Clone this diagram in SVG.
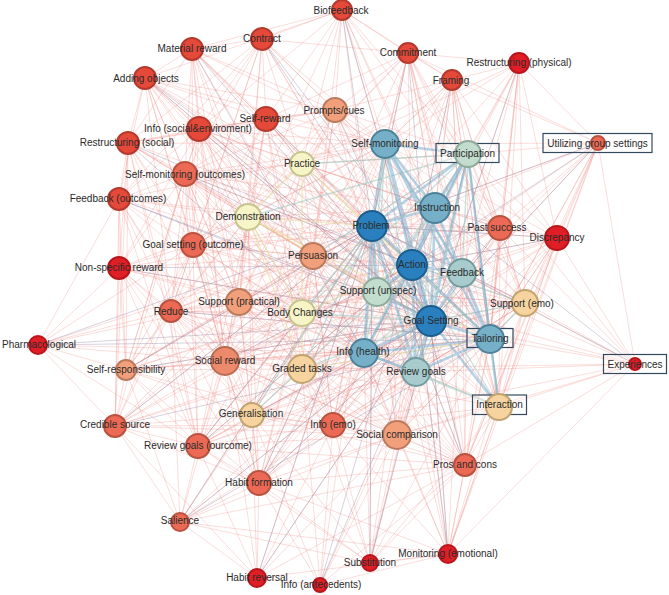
<svg xmlns="http://www.w3.org/2000/svg" width="669" height="595" viewBox="0 0 669 595">
<style>
.node text{font-family:"Liberation Sans",Arial,sans-serif;font-size:10px;fill:#2a2a2a;text-anchor:middle}
.node circle{stroke-width:2}
.box{fill:#fff;fill-opacity:0.35;stroke:#34495e;stroke-width:1.2}
.rd{fill:#e01e26;stroke:#b8161c}
.r{fill:#e5493a;stroke:#b53a2e}
.sr{fill:#ec6a55;stroke:#b9533f}
.ls{fill:#f2a07c;stroke:#bb7a5c}
.ls2{fill:#ee8a6c;stroke:#b86c52}
.pc{fill:#f7d39f;stroke:#c2a470}
.yl{fill:#f7f4c8;stroke:#c6c58e}
.lg{fill:#c2dccd;stroke:#8daa9a}
.lt{fill:#a8cccd;stroke:#729c9d}
.tl{fill:#76afc8;stroke:#4e8299}
.bl{fill:#2a80be;stroke:#1b5e8e}
.e1{fill:none;stroke:#ef8a82;stroke-opacity:0.42;stroke-width:0.7}
.e2{fill:none;stroke:#8f7f9f;stroke-opacity:0.45;stroke-width:0.8}
.e3{fill:none;stroke:#6fa7cc;stroke-opacity:0.5;stroke-width:2.6}
.e4{fill:none;stroke:#9cc9bf;stroke-opacity:0.55;stroke-width:1.4}
.e5{fill:none;stroke:#e3dc96;stroke-opacity:0.65;stroke-width:1.1}
</style>
<rect width="669" height="595" fill="#fff"/>
<g id="connectors">
<path class="e1" d="M342 10L192 49M342 10L262 39M342 10L408 53M342 10L452 80M342 10L335 110M342 10L385 144M342 10L302 164M342 10L313 256M342 10L435 208M342 10L468 154M342 10L500 228M342 10L490 339M342 10L145 78M342 10L266 119M342 10L248 217M342 10L199 129M342 10L377 292
M192 49L262 39M192 49L145 78M192 49L266 119M192 49L199 129M192 49L128 143M192 49L185 174M192 49L302 164M192 49L335 110M192 49L248 217M192 49L193 245M192 49L313 256M192 49L372 226M192 49L412 265M192 49L239 302M192 49L225 361M192 49L385 144M192 49L302 313
M262 39L408 53M262 39L266 119M262 39L335 110M262 39L199 129M262 39L302 164M262 39L248 217M262 39L193 245M262 39L435 208M262 39L385 144M262 39L372 226M262 39L239 302M262 39L171 311M262 39L119 199M262 39L185 174M262 39L128 143
M408 53L519 63M408 53L452 80M408 53L335 110M408 53L385 144M408 53L468 154M408 53L302 164M408 53L313 256M408 53L372 226M408 53L435 208M408 53L500 228M408 53L462 273M408 53L490 339M408 53L525 303M408 53L248 217M408 53L266 119M408 53L499 407
M519 63L452 80M519 63L468 154M519 63L598 143M519 63L385 144M519 63L435 208M519 63L500 228M519 63L462 273M519 63L525 303M519 63L490 339M519 63L372 226M519 63L412 265M519 63L557 238M519 63L499 407M519 63L302 164
M452 80L335 110M452 80L385 144M452 80L468 154M452 80L435 208M452 80L372 226M452 80L500 228M452 80L462 273M452 80L490 339M452 80L598 143M452 80L313 256M452 80L302 164M452 80L377 292M452 80L525 303M452 80L557 238
M145 78L199 129M145 78L128 143M145 78L185 174M145 78L119 199M145 78L266 119M145 78L335 110M145 78L302 164M145 78L248 217M145 78L193 245M145 78L313 256M145 78L372 226M145 78L412 265M145 78L377 292M145 78L239 302M145 78L302 313M145 78L225 361M145 78L171 311
M266 119L335 110M266 119L199 129M266 119L302 164M266 119L248 217M266 119L193 245M266 119L313 256M266 119L372 226M266 119L185 174M266 119L128 143M266 119L239 302M266 119L302 313M266 119L225 361M266 119L171 311M266 119L302 369
M335 110L302 164M335 110L385 144M335 110L248 217M335 110L313 256M335 110L302 313M335 110L372 226M335 110L239 302M335 110L193 245M335 110L185 174M335 110L199 129M335 110L128 143M335 110L377 292M335 110L225 361M335 110L468 154
M199 129L128 143M199 129L185 174M199 129L119 199M199 129L302 164M199 129L248 217M199 129L193 245M199 129L313 256M199 129L372 226M199 129L171 311M199 129L239 302M199 129L302 313M199 129L225 361M199 129L119 268M199 129L302 369M199 129L126 370
M128 143L185 174M128 143L119 199M128 143L193 245M128 143L119 268M128 143L171 311M128 143L239 302M128 143L225 361M128 143L248 217M128 143L313 256M128 143L372 226M128 143L126 370M128 143L115 426M128 143L198 446
M385 144L302 164M385 144L248 217M385 144L313 256M385 144L500 228M385 144L525 303M385 144L302 313M385 144L302 369M385 144L333 425M385 144L397 435M385 144L499 407
M468 154L500 228M468 154L557 238M468 154L598 143M468 154L525 303M468 154L499 407M468 154L397 435M468 154L465 465M468 154L635 364M468 154L333 425M468 154L302 164M468 154L313 256
M598 143L500 228M598 143L557 238M598 143L462 273M598 143L525 303M598 143L490 339M598 143L499 407M598 143L635 364M598 143L465 465M598 143L448 554M598 143L377 292M598 143L435 208M598 143L408 53M598 143L385 144
M302 164L193 245M302 164L239 302M302 164L185 174M302 164L372 226M302 164L377 292M302 164L500 228M302 164L252 415M302 164L333 425
M185 174L119 199M185 174L248 217M185 174L193 245M185 174L119 268M185 174L171 311M185 174L239 302M185 174L225 361M185 174L313 256M185 174L372 226M185 174L126 370M185 174L115 426M185 174L198 446M185 174L302 313M185 174L302 369M185 174L252 415
M119 199L193 245M119 199L119 268M119 199L171 311M119 199L239 302M119 199L225 361M119 199L126 370M119 199L115 426M119 199L248 217M119 199L313 256M119 199L372 226M119 199L38 345M119 199L198 446M119 199L252 415
M248 217L193 245M248 217L313 256M248 217L171 311M248 217L239 302M248 217L225 361M248 217L252 415M248 217L333 425M248 217L198 446M248 217L259 483M248 217L500 228M248 217L119 268M248 217L126 370
M500 228L557 238M500 228L462 273M500 228L525 303M500 228L490 339M500 228L499 407M500 228L397 435M500 228L465 465M500 228L333 425M500 228L313 256M500 228L416 372M500 228L377 292M500 228L302 313
M557 238L462 273M557 238L525 303M557 238L490 339M557 238L499 407M557 238L635 364M557 238L397 435M557 238L465 465M557 238L416 372M557 238L448 554M557 238L377 292
M193 245L119 268M193 245L171 311M193 245L239 302M193 245L225 361M193 245L126 370M193 245L115 426M193 245L198 446M193 245L252 415M193 245L313 256M193 245L302 313M193 245L302 369M193 245L259 483M193 245L364 353M193 245L500 228
M313 256L239 302M313 256L302 313M313 256L225 361M313 256L302 369M313 256L252 415M313 256L333 425M313 256L198 446M313 256L397 435M313 256L259 483M313 256L171 311M313 256L126 370M313 256L115 426M313 256L525 303M313 256L499 407M313 256L465 465
M119 268L38 345M119 268L171 311M119 268L126 370M119 268L225 361M119 268L239 302M119 268L115 426M119 268L198 446M119 268L252 415M119 268L259 483M119 268L313 256M119 268L302 313
M525 303L635 364M525 303L499 407M525 303L397 435M525 303L465 465M525 303L448 554M525 303L416 372M525 303L333 425M525 303L302 369M525 303L302 313M525 303L377 292M525 303L239 302
M171 311L38 345M171 311L126 370M171 311L225 361M171 311L115 426M171 311L198 446M171 311L252 415M171 311L259 483M171 311L239 302M171 311L302 369M171 311L180 522M171 311L333 425M171 311L302 313M171 311L397 435
M239 302L225 361M239 302L302 369M239 302L252 415M239 302L333 425M239 302L198 446M239 302L259 483M239 302L302 313M239 302L397 435M239 302L126 370M239 302L115 426M239 302L465 465
M302 313L252 415M302 313L333 425M302 313L225 361M302 313L259 483M302 313L397 435M302 313L198 446M302 313L126 370M302 313L465 465M302 313L499 407
M38 345L126 370M38 345L115 426M38 345L225 361M38 345L239 302M38 345L193 245M38 345L313 256M38 345L198 446M38 345L364 353
M126 370L115 426M126 370L225 361M126 370L198 446M126 370L252 415M126 370L259 483M126 370L180 522M126 370L302 369M126 370L333 425M126 370L364 353
M225 361L302 369M225 361L252 415M225 361L198 446M225 361L259 483M225 361L115 426M225 361L180 522M225 361L333 425M225 361L397 435M225 361L257 578M225 361L465 465M225 361L525 303
M302 369L252 415M302 369L333 425M302 369L397 435M302 369L259 483M302 369L198 446M302 369L465 465M302 369L499 407M302 369L370 563M302 369L320 585
M635 364L499 407M635 364L465 465M635 364L490 339M635 364L448 554M635 364L500 228M635 364L416 372M635 364L397 435M635 364L462 273M635 364L431 321M635 364L377 292M635 364L333 425M635 364L412 265M635 364L302 369
M499 407L397 435M499 407L465 465M499 407L448 554M499 407L333 425M499 407L370 563
M115 426L198 446M115 426L252 415M115 426L259 483M115 426L180 522M115 426L333 425M115 426L302 369M115 426L397 435M115 426L257 578
M252 415L333 425M252 415L198 446M252 415L259 483M252 415L180 522M252 415L397 435M252 415L465 465M252 415L257 578M252 415L320 585M252 415L370 563
M333 425L198 446M333 425L259 483M333 425L397 435M333 425L465 465M333 425L370 563M333 425L448 554M333 425L320 585M333 425L257 578M333 425L180 522
M198 446L259 483M198 446L180 522M198 446L397 435M198 446L465 465M198 446L257 578M198 446L370 563
M397 435L465 465M397 435L259 483M397 435L370 563M397 435L448 554M397 435L320 585M397 435L180 522M397 435L257 578
M465 465L259 483M465 465L448 554M465 465L370 563M465 465L320 585M465 465L257 578M465 465L180 522
M259 483L180 522M259 483L257 578M259 483L320 585M259 483L370 563M259 483L448 554
M180 522L257 578M180 522L370 563M180 522L448 554M448 554L370 563M448 554L320 585M448 554L257 578M257 578L320 585
M372 226L193 245M372 226L119 268M372 226L171 311M372 226L239 302M372 226L225 361M372 226L126 370M372 226L115 426M372 226L198 446M372 226L252 415M372 226L259 483M372 226L180 522M372 226L257 578M372 226L370 563M372 226L448 554M372 226L320 585M372 226L333 425M372 226L397 435M372 226L465 465M372 226L525 303M372 226L557 238M372 226L500 228M372 226L598 143
M412 265L193 245M412 265L171 311M412 265L239 302M412 265L225 361M412 265L115 426M412 265L198 446M412 265L252 415M412 265L259 483M412 265L370 563M412 265L448 554M412 265L333 425M412 265L397 435M412 265L465 465M412 265L525 303M412 265L557 238M412 265L500 228M412 265L266 119M412 265L199 129M412 265L185 174M412 265L302 164M412 265L335 110M412 265L408 53M412 265L452 80
M431 321L193 245M431 321L119 268M431 321L171 311M431 321L239 302M431 321L225 361M431 321L126 370M431 321L115 426M431 321L198 446M431 321L252 415M431 321L259 483M431 321L180 522M431 321L257 578M431 321L370 563M431 321L448 554M431 321L333 425M431 321L465 465M431 321L557 238M431 321L500 228M431 321L185 174M431 321L128 143M431 321L199 129M431 321L145 78M431 321L262 39M431 321L342 10M431 321L519 63M431 321L598 143M431 321L302 164M431 321L248 217
M435 208L185 174M435 208L199 129M435 208L266 119M435 208L335 110M435 208L302 164M435 208L248 217M435 208L193 245M435 208L313 256M435 208L239 302M435 208L302 313M435 208L225 361M435 208L302 369M435 208L333 425M435 208L397 435M435 208L465 465M435 208L525 303M435 208L557 238M435 208L500 228M435 208L499 407M435 208L408 53M435 208L452 80
M385 144L185 174M385 144L199 129M385 144L266 119M385 144L128 143M385 144L193 245M385 144L239 302M385 144L171 311M385 144L225 361M385 144L119 199M385 144L145 78M385 144L408 53M385 144L452 80M385 144L557 238
M490 339L313 256M490 339L302 313M490 339L302 369M490 339L333 425M490 339L397 435M490 339L465 465M490 339L448 554M490 339L370 563M490 339L239 302M490 339L225 361M490 339L252 415M490 339L198 446M490 339L557 238M490 339L500 228M490 339L525 303M490 339L335 110M490 339L452 80M490 339L519 63M490 339L598 143M490 339L171 311M490 339L126 370
M364 353L302 313M364 353L302 369M364 353L252 415M364 353L333 425M364 353L397 435M364 353L465 465M364 353L225 361M364 353L239 302M364 353L171 311M364 353L198 446M364 353L259 483M364 353L180 522M364 353L370 563M364 353L448 554M364 353L313 256M364 353L248 217M364 353L302 164M364 353L185 174M364 353L199 129M364 353L525 303M364 353L557 238
M416 372L302 313M416 372L302 369M416 372L252 415M416 372L333 425M416 372L397 435M416 372L465 465M416 372L225 361M416 372L198 446M416 372L259 483M416 372L370 563M416 372L448 554M416 372L320 585M416 372L313 256M416 372L302 164M416 372L525 303M416 372L499 407M416 372L239 302M416 372L171 311
M462 273L313 256M462 273L302 313M462 273L302 369M462 273L333 425M462 273L397 435M462 273L465 465M462 273L525 303M462 273L499 407M462 273L239 302M462 273L225 361M462 273L248 217M462 273L302 164M462 273L335 110M462 273L452 80M462 273L448 554
M377 292L313 256M377 292L302 313M377 292L302 369M377 292L333 425M377 292L397 435M377 292L465 465M377 292L239 302M377 292L225 361M377 292L193 245M377 292L248 217M377 292L171 311M377 292L126 370M377 292L259 483M377 292L499 407M377 292L525 303"/>
<path class="e2" d="M342 10L372 226M342 10L431 321M262 39L412 265M262 39L490 339M192 49L431 321M192 49L364 353M145 78L431 321M145 78L490 339M128 143L412 265M128 143L364 353M266 119L431 321M266 119L490 339M408 53L372 226M408 53L431 321M452 80L412 265M519 63L431 321M598 143L372 226M598 143L412 265M598 143L431 321M635 364L372 226M635 364L435 208M557 238L412 265M557 238L372 226M259 483L372 226M259 483L431 321M259 483L435 208M180 522L431 321M180 522L372 226M180 522L490 339M257 578L431 321M257 578L372 226M370 563L372 226M370 563L431 321M448 554L431 321M448 554L412 265M320 585L431 321M320 585L412 265M115 426L372 226M115 426L490 339M38 345L372 226M38 345L431 321M38 345L490 339M126 370L431 321M126 370L372 226M119 268L431 321M119 268L412 265M119 199L431 321M185 174L412 265M199 129L431 321M198 446L412 265M198 446L372 226M465 465L372 226M465 465L412 265M185 174L490 339M119 199L490 339M313 256L431 321M225 361L412 265M171 311L490 339M335 110L431 321M500 228L431 321M525 303L372 226M499 407L372 226M252 415L431 321"/>
<path class="e5" d="M302 164L248 217M302 164L302 313M302 164L302 369M248 217L302 313M248 217L302 369M302 313L302 369M302 164L412 265M248 217L431 321M248 217L372 226M302 313L412 265M302 369L490 339M302 164L490 339M248 217L490 339"/>
<path class="e4" d="M468 154L377 292M468 154L462 273M468 154L416 372M468 154L364 353M468 154L302 164M468 154L313 256M468 154L302 313M468 154L248 217M377 292L462 273M377 292L416 372M377 292L364 353M377 292L385 144M377 292L435 208M462 273L416 372M462 273L364 353M462 273L385 144M416 372L385 144M416 372L435 208M416 372L499 407M364 353L385 144M364 353L435 208M499 407L468 154M499 407L412 265M499 407L364 353M525 303L431 321M525 303L412 265M525 303L490 339M302 369L431 321M302 369L372 226M252 415L372 226M252 415L412 265M302 313L372 226M302 313L431 321"/>
<path class="e3" d="M385 144L372 226M385 144L412 265M385 144L431 321M385 144L435 208M385 144L490 339M435 208L372 226M435 208L412 265M435 208L431 321M435 208L490 339M435 208L468 154M372 226L412 265M372 226L431 321M372 226L490 339M372 226L364 353M372 226L377 292M412 265L431 321M412 265L490 339M412 265L462 273M431 321L490 339M431 321L364 353M431 321L416 372M490 339L462 273M490 339L468 154M490 339L364 353M490 339L416 372M468 154L372 226M468 154L412 265M468 154L431 321M462 273L431 321M377 292L431 321M364 353L412 265M416 372L412 265M385 144L468 154M385 144L462 273M490 339L499 407M431 321L499 407M372 226L416 372M435 208L462 273M412 265L377 292M364 353L416 372"/>
</g>
<g id="n-biofeedback" class="node"><circle cx="342" cy="10" r="10" class="r"/><text x="341" y="13.5">Biofeedback</text></g>
<g id="n-material-reward" class="node"><circle cx="192" cy="49" r="11" class="r"/><text x="192" y="51.5">Material reward</text></g>
<g id="n-contract" class="node"><circle cx="262" cy="39" r="11" class="r"/><text x="262" y="41.5">Contract</text></g>
<g id="n-commitment" class="node"><circle cx="408" cy="53" r="10" class="r"/><text x="408" y="56">Commitment</text></g>
<g id="n-restructuring-physical" class="node"><circle cx="519" cy="63" r="10" class="rd"/><text x="519" y="66">Restructuring (physical)</text></g>
<g id="n-framing" class="node"><circle cx="452" cy="80" r="10" class="r"/><text x="451" y="83.5">Framing</text></g>
<g id="n-adding-objects" class="node"><circle cx="145" cy="78" r="11" class="r"/><text x="146" y="81.5">Adding objects</text></g>
<g id="n-self-reward" class="node"><circle cx="266" cy="119" r="12" class="r"/><text x="265" y="122">Self-reward</text></g>
<g id="n-prompts" class="node"><circle cx="335" cy="110" r="12" class="ls"/><text x="334" y="113.5">Prompts/cues</text></g>
<g id="n-info-social" class="node"><circle cx="199" cy="129" r="12" class="r"/><text x="198" y="132">Info (social&amp;enviroment)</text></g>
<g id="n-restructuring-social" class="node"><circle cx="128" cy="143" r="11" class="r"/><text x="127" y="146">Restructuring (social)</text></g>
<g id="n-self-monitoring" class="node"><circle cx="385" cy="144" r="14" class="tl"/><text x="385" y="147">Self-monitoring</text></g>
<g id="n-participation" class="node"><rect x="436" y="143.5" width="63" height="19" class="box"/><circle cx="468" cy="154" r="13" class="lg"/><text x="467.5" y="157">Participation</text></g>
<g id="n-utilizing" class="node"><rect x="543" y="133.5" width="109" height="19" class="box"/><circle cx="598" cy="143" r="7" class="sr"/><text x="597.5" y="146.5">Utilizing group settings</text></g>
<g id="n-practice" class="node"><circle cx="302" cy="164" r="12" class="yl"/><text x="302" y="167">Practice</text></g>
<g id="n-self-monitoring-outcomes" class="node"><circle cx="185" cy="174" r="12" class="sr"/><text x="185" y="177.5">Self-monitoring (outcomes)</text></g>
<g id="n-feedback-outcomes" class="node"><circle cx="119" cy="199" r="11" class="r"/><text x="118" y="202">Feedback (outcomes)</text></g>
<g id="n-demonstration" class="node"><circle cx="248" cy="217" r="13" class="yl"/><text x="248" y="219.5">Demonstration</text></g>
<g id="n-instruction" class="node"><circle cx="435" cy="208" r="15" class="tl"/><text x="437" y="211">Instruction</text></g>
<g id="n-problem" class="node"><circle cx="372" cy="226" r="15" class="bl"/><text x="371" y="229">Problem</text></g>
<g id="n-past-success" class="node"><circle cx="500" cy="228" r="12" class="sr"/><text x="497" y="230.5">Past success</text></g>
<g id="n-discrepancy" class="node"><circle cx="557" cy="238" r="12" class="rd"/><text x="557" y="241">Discrepancy</text></g>
<g id="n-goal-setting-outcome" class="node"><circle cx="193" cy="245" r="12" class="sr"/><text x="193" y="248">Goal setting (outcome)</text></g>
<g id="n-persuasion" class="node"><circle cx="313" cy="256" r="13" class="ls"/><text x="313" y="258.5">Persuasion</text></g>
<g id="n-non-specific-reward" class="node"><circle cx="119" cy="268" r="11" class="rd"/><text x="119" y="270.5">Non-specific reward</text></g>
<g id="n-action" class="node"><circle cx="412" cy="265" r="15" class="bl"/><text x="412" y="267.5">Action</text></g>
<g id="n-feedback" class="node"><circle cx="462" cy="273" r="14" class="lt"/><text x="462" y="276">Feedback</text></g>
<g id="n-support-unspec" class="node"><circle cx="377" cy="292" r="14" class="lg"/><text x="378" y="294">Support (unspec)</text></g>
<g id="n-support-emo" class="node"><circle cx="525" cy="303" r="13" class="pc"/><text x="522" y="306.5">Support (emo)</text></g>
<g id="n-reduce" class="node"><circle cx="171" cy="311" r="11" class="sr"/><text x="171" y="314.5">Reduce</text></g>
<g id="n-support-practical" class="node"><circle cx="239" cy="302" r="13" class="ls"/><text x="239" y="305">Support (practical)</text></g>
<g id="n-body-changes" class="node"><circle cx="302" cy="313" r="13" class="yl"/><text x="300" y="316">Body Changes</text></g>
<g id="n-goal-setting" class="node"><circle cx="431" cy="321" r="15" class="bl"/><text x="431" y="323.5">Goal Setting</text></g>
<g id="n-tailoring" class="node"><rect x="467" y="328.5" width="46" height="19" class="box"/><circle cx="490" cy="339" r="14" class="tl"/><text x="490" y="342">Tailoring</text></g>
<g id="n-pharmacological" class="node"><circle cx="38" cy="345" r="9" class="rd"/><text x="39" y="348">Pharmacological</text></g>
<g id="n-self-responsibility" class="node"><circle cx="126" cy="370" r="10" class="ls"/><text x="126" y="372.5">Self-responsibility</text></g>
<g id="n-social-reward" class="node"><circle cx="225" cy="361" r="14" class="ls2"/><text x="225" y="363.5">Social reward</text></g>
<g id="n-graded-tasks" class="node"><circle cx="302" cy="369" r="14" class="pc"/><text x="302" y="371.5">Graded tasks</text></g>
<g id="n-info-health" class="node"><circle cx="364" cy="353" r="14" class="tl"/><text x="363" y="355">Info (health)</text></g>
<g id="n-review-goals" class="node"><circle cx="416" cy="372" r="14" class="lt"/><text x="416" y="374.5">Review goals</text></g>
<g id="n-experiences" class="node"><rect x="603.5" y="354.5" width="63" height="19" class="box"/><circle cx="635" cy="364" r="6" class="rd"/><text x="635" y="367.5">Experiences</text></g>
<g id="n-interaction" class="node"><rect x="472.5" y="395" width="54" height="19.5" class="box"/><circle cx="499" cy="407" r="13" class="pc"/><text x="499.5" y="408">Interaction</text></g>
<g id="n-credible-source" class="node"><circle cx="115" cy="426" r="11" class="sr"/><text x="115" y="428">Credible source</text></g>
<g id="n-generalisation" class="node"><circle cx="252" cy="415" r="12" class="pc"/><text x="251" y="417">Generalisation</text></g>
<g id="n-info-emo" class="node"><circle cx="333" cy="425" r="12" class="sr"/><text x="333" y="428">Info (emo)</text></g>
<g id="n-review-goals-outcome" class="node"><circle cx="198" cy="446" r="12" class="sr"/><text x="198" y="449">Review goals (ourcome)</text></g>
<g id="n-social-comparison" class="node"><circle cx="397" cy="435" r="14" class="ls"/><text x="397" y="438">Social comparison</text></g>
<g id="n-pros-cons" class="node"><circle cx="465" cy="465" r="11" class="sr"/><text x="465" y="468">Pros and cons</text></g>
<g id="n-habit-formation" class="node"><circle cx="259" cy="483" r="12" class="sr"/><text x="259" y="485.5">Habit formation</text></g>
<g id="n-salience" class="node"><circle cx="180" cy="522" r="9" class="sr"/><text x="180" y="524">Salience</text></g>
<g id="n-monitoring-emotional" class="node"><circle cx="448" cy="554" r="9" class="rd"/><text x="448" y="557">Monitoring (emotional)</text></g>
<g id="n-substitution" class="node"><circle cx="370" cy="563" r="8" class="rd"/><text x="370" y="566">Substitution</text></g>
<g id="n-habit-reversal" class="node"><circle cx="257" cy="578" r="9" class="rd"/><text x="257" y="580.5">Habit reversal</text></g>
<g id="n-info-antecedents" class="node"><circle cx="320" cy="585" r="7" class="rd"/><text x="321" y="588">Info (antecedents)</text></g>
</svg>
